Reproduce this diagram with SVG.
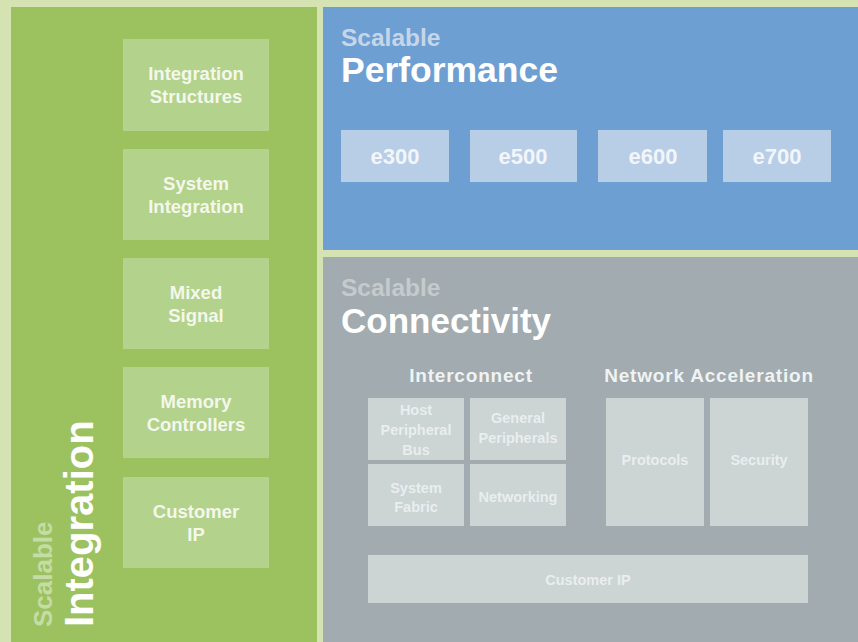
<svg xmlns="http://www.w3.org/2000/svg" width="858" height="642" viewBox="0 0 858 642">
<style>
text{font-family:"Liberation Sans",Arial,sans-serif;font-weight:bold;text-anchor:middle}
.gb{fill:#b3d28b}
.gt{fill:#f4f8ec;font-size:18.5px}
.eb{fill:#b8cde6}
.et{fill:#f2f6fb;font-size:22px}
.cb{fill:#cdd4d4}
.ct{fill:#e9eeee;font-size:14.5px}
.hd{fill:#f0f3f3;font-size:19px;letter-spacing:0.8px}
</style>
<rect x="0" y="0" width="858" height="642" fill="#d5e2b1"/>
<g id="integration-panel">
<rect x="11" y="7" width="306" height="635" fill="#9cc260"/>
<text transform="translate(52,627) rotate(-90)" style="text-anchor:start;font-size:26px;fill:#c6dca6">Scalable</text>
<text transform="translate(93,627) rotate(-90)" style="text-anchor:start;font-size:40px;fill:#ffffff">Integration</text>
</g>
<g id="integration-structures"><rect class="gb" x="123" y="39" width="146" height="92"/><text class="gt" x="196" y="80">Integration</text><text class="gt" x="196" y="103">Structures</text></g>
<g id="system-integration"><rect class="gb" x="123" y="149" width="146" height="91"/><text class="gt" x="196" y="190">System</text><text class="gt" x="196" y="213">Integration</text></g>
<g id="mixed-signal"><rect class="gb" x="123" y="258" width="146" height="91"/><text class="gt" x="196" y="299">Mixed</text><text class="gt" x="196" y="322">Signal</text></g>
<g id="memory-controllers"><rect class="gb" x="123" y="367" width="146" height="91"/><text class="gt" x="196" y="408">Memory</text><text class="gt" x="196" y="431">Controllers</text></g>
<g id="customer-ip-left"><rect class="gb" x="123" y="477" width="146" height="91"/><text class="gt" x="196" y="518">Customer</text><text class="gt" x="196" y="541">IP</text></g>

<g id="performance-panel">
<rect x="323" y="7" width="535" height="243" fill="#6e9fd3"/>
<text x="341" y="46" style="text-anchor:start;font-size:24.5px;fill:#c6d6e8">Scalable</text>
<text x="341" y="82" style="text-anchor:start;font-size:35.5px;fill:#ffffff">Performance</text>
</g>
<g id="e300"><rect class="eb" x="341" y="130" width="108" height="52"/><text class="et" x="395" y="164">e300</text></g>
<g id="e500"><rect class="eb" x="470" y="130" width="107" height="52"/><text class="et" x="523" y="164">e500</text></g>
<g id="e600"><rect class="eb" x="598" y="130" width="109" height="52"/><text class="et" x="653" y="164">e600</text></g>
<g id="e700"><rect class="eb" x="723" y="130" width="108" height="52"/><text class="et" x="777" y="164">e700</text></g>

<g id="connectivity-panel">
<rect x="323" y="257" width="535" height="385" fill="#a2abaf"/>
<text x="341" y="296" style="text-anchor:start;font-size:24.5px;fill:#c5cbcd">Scalable</text>
<text x="341" y="333" style="text-anchor:start;font-size:35px;fill:#ffffff">Connectivity</text>
<text class="hd" x="471" y="382">Interconnect</text>
<text class="hd" x="709" y="382">Network Acceleration</text>
</g>
<g id="host-peripheral-bus"><rect class="cb" x="368" y="398" width="96" height="62"/><text class="ct" x="416" y="415">Host</text><text class="ct" x="416" y="435">Peripheral</text><text class="ct" x="416" y="455">Bus</text></g>
<g id="general-peripherals"><rect class="cb" x="470" y="398" width="96" height="62"/><text class="ct" x="518" y="423">General</text><text class="ct" x="518" y="443">Peripherals</text></g>
<g id="system-fabric"><rect class="cb" x="368" y="464" width="96" height="62"/><text class="ct" x="416" y="493">System</text><text class="ct" x="416" y="512">Fabric</text></g>
<g id="networking"><rect class="cb" x="470" y="464" width="96" height="62"/><text class="ct" x="518" y="502">Networking</text></g>
<g id="protocols"><rect class="cb" x="606" y="398" width="98" height="128"/><text class="ct" x="655" y="465">Protocols</text></g>
<g id="security"><rect class="cb" x="710" y="398" width="98" height="128"/><text class="ct" x="759" y="465">Security</text></g>
<g id="customer-ip"><rect class="cb" x="368" y="555" width="440" height="48"/><text class="ct" x="588" y="585">Customer IP</text></g>
<g id="connectors"/>
</svg>
